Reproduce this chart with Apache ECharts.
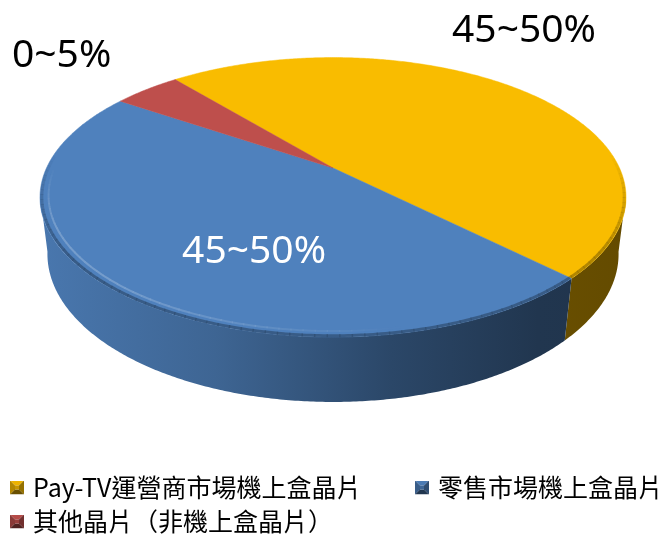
<!DOCTYPE html>
<html><head><meta charset="utf-8">
<script src="https://cdn.jsdelivr.net/npm/echarts@6/dist/echarts.min.js"></script>
<style>html,body{margin:0;padding:0;background:#fff}#c{width:663px;height:538px}</style>
</head><body><div id="c"></div>
<script>
// ---- data ----
const categories = ['Pay-TV運營商市場機上盒晶片', '零售市場機上盒晶片', '其他晶片（非機上盒晶片）'];
const shares = [48.5, 47, 4.5];
const sliceLabels = ['45~50%', '45~50%', '0~5%'];

// ---- style ----
const topColors = ['#F9BC00', '#4F81BD', '#BE4F4C'];
const labelColors = ['#000000', '#FFFFFF', '#000000'];
const START_DEG = 230.2;
// perspective projection of the pie disc
const CX = 333, CY = 168, S = 286.5, SINA = 0.4663, COSA = 0.8846, RHO = 0.237, HGT = 0.2255;
function proj(phi, r, h) {
  const X = r * Math.cos(phi), Z = r * Math.sin(phi), Y = -h;
  const d = 1 - (Y * SINA + Z * COSA) * RHO;
  return [CX + S * X / d, CY + S * (-Y * COSA + Z * SINA) / d];
}
const total = shares.reduce((a, b) => a + b, 0);
function sliceAngles(i) {
  let cum = 0;
  for (let k = 0; k < i; k++) cum += shares[k];
  const a0 = (START_DEG + cum / total * 360) * Math.PI / 180;
  const a1 = (START_DEG + (cum + shares[i]) / total * 360) * Math.PI / 180;
  return [a0, a1];
}
function hexToRgb(h) { return [parseInt(h.substr(1, 2), 16), parseInt(h.substr(3, 2), 16), parseInt(h.substr(5, 2), 16)]; }
function shadeArr(hex, k) { return hexToRgb(hex).map(v => Math.max(0, Math.min(255, Math.round(v * k)))); }
function shade(hex, k) { return 'rgb(' + shadeArr(hex, k).join(',') + ')'; }
function toHex(a) { return '#' + a.map(v => v.toString(16).padStart(2, '0')).join(''); }
function lighten(hex, t) { const c = hexToRgb(hex); return 'rgb(' + c.map(v => Math.round(v + (255 - v) * t)).join(',') + ')'; }

const FRONT_LO = Math.asin(0.19), FRONT_HI = Math.PI - Math.asin(0.19);
function renderWall(params, api) {
  const i = api.value(0);
  const [a0, a1] = sliceAngles(i);
  const children = [];
  for (let k = -1; k <= 2; k++) {
    const lo = Math.max(a0, FRONT_LO + 2 * Math.PI * k), hi = Math.min(a1, FRONT_HI + 2 * Math.PI * k);
    if (hi <= lo) continue;
    const n = Math.max(2, Math.ceil((hi - lo) / (0.5 * Math.PI / 180)));
    const top = [], bot = [];
    for (let j = 0; j <= n; j++) {
      const p = lo + (hi - lo) * j / n;
      top.push(proj(p, 1, 0));
      bot.push(proj(p, 1, HGT));
    }
    const pts = top.concat(bot.reverse());
    children.push({ type: 'polygon', shape: { points: pts }, style: {
      fill: { type: 'linear', x: 40, y: 0, x2: 626, y2: 0, global: true, colorStops: [
        { offset: 0, color: shade(topColors[i], 0.92) },
        { offset: 0.3, color: shade(topColors[i], 0.78) },
        { offset: 0.6, color: shade(topColors[i], 0.55) },
        { offset: 0.85, color: shade(topColors[i], 0.42) },
        { offset: 1, color: shade(topColors[i], 0.40) }] },
      stroke: null } });
  }
  return { type: 'group', children: children };
}

const labelAnchor = [{ r: 1, dx: 6, dy: -58 }, { r: 0.5, dx: 20, dy: 28 }, { r: 1, dx: -85, dy: -34 }];

function makeTopRender(i) {
  return function (params, api) {
    const [a0, a1] = sliceAngles(i);
    const pts = [proj(0, 0, 0)];
    const n = Math.max(4, Math.ceil((a1 - a0) / (0.5 * Math.PI / 180)));
    for (let j = 0; j <= n; j++) pts.push(proj(a0 + (a1 - a0) * j / n, 1, 0));
    const children = [{ type: 'polygon', shape: { points: pts }, style: { fill: topColors[i], stroke: topColors[i], lineWidth: 0.5 } }];
    // bevel: dark rim + light inner highlight on the near-left side
    const seg = 2 * Math.PI / 180;
    for (let p = a0; p < a1 - 1e-9; p += seg) {
      const q = Math.min(p + seg + 0.004, a1), m = (p + q) / 2;
      const sn = Math.sin(m), cs = Math.cos(m);
      if (sn > -0.1) {
        const op = Math.min(1, (sn + 0.1) * 1.5);
        const r1 = [], r2 = [];
        for (let u = 0; u <= 3; u++) { r1.push(proj(p + (q - p) * u / 3, 0.994, 0)); r2.push(proj(p + (q - p) * u / 3, 0.972, 0)); }
        children.push({ type: 'polyline', shape: { points: r1 }, style: { stroke: shade(topColors[i], 0.6), lineWidth: 3, opacity: op * 0.7, fill: null } });
        const hop = Math.max(0, Math.min(0.85, 0.2 - cs * 1.0)) * Math.min(1, Math.max(0, sn) * 2.5);
        if (hop > 0.02) children.push({ type: 'polyline', shape: { points: r2 }, style: { stroke: lighten(topColors[i], 0.25), lineWidth: 2, opacity: hop, fill: null } });
      }
    }
    const la = labelAnchor[i];
    const am = (a0 + a1) / 2;
    const pa = proj(am, la.r, 0);
    children.push({ type: 'text', x: pa[0] + la.dx, y: pa[1] + la.dy, z2: 100,
      style: { text: sliceLabels[i], fill: labelColors[i], fontSize: 39, fontFamily: 'Noto Sans', align: 'center', verticalAlign: 'middle' } });
    return { type: 'group', children: children };
  };
}

const series = [{
  type: 'custom', name: 'wall', coordinateSystem: 'none', z: 1, silent: true,
  data: shares.map((v, i) => [i, v]), renderItem: renderWall
}];
categories.forEach((name, i) => {
  series.push({
    type: 'custom', name: name, coordinateSystem: 'none', z: 2, silent: true,
    itemStyle: { color: topColors[i] },
    data: [[i, shares[i]]], renderItem: makeTopRender(i)
  });
});

// pyramid-bevel legend icons
function pyramidIcon(hex) {
  const t = toHex(shadeArr(hex, 0.95)), l = toHex(shadeArr(hex, 0.72)), r = toHex(shadeArr(hex, 0.6)), b = toHex(shadeArr(hex, 0.42)), c = toHex(shadeArr(hex, 0.8));
  const svg = '<svg xmlns="http://www.w3.org/2000/svg" width="14" height="14" viewBox="0 0 14 14">' +
    '<polygon points="0,0 14,0 9,5 5,5" fill="' + t + '"/>' +
    '<polygon points="0,0 5,5 5,9 0,14" fill="' + l + '"/>' +
    '<polygon points="14,0 14,14 9,9 9,5" fill="' + r + '"/>' +
    '<polygon points="0,14 5,9 9,9 14,14" fill="' + b + '"/>' +
    '<rect x="5" y="5" width="4" height="4" fill="' + c + '"/></svg>';
  return 'image://data:image/svg+xml;charset=utf-8,' + encodeURIComponent(svg);
}
const legendPos = [{ left: 10, top: 475 }, { left: 415, top: 475 }, { left: 10, top: 509 }];
const legend = categories.map((name, i) => ({
  data: [{ name: name, icon: pyramidIcon(topColors[i]) }],
  left: legendPos[i].left, top: legendPos[i].top, padding: 0,
  itemWidth: 14, itemHeight: 14, selectedMode: false,
  textStyle: { fontSize: 25, fontFamily: 'Noto Sans CJK TC', color: '#000', padding: [0, 0, 0, 4] }
}));

const chart = echarts.init(document.getElementById('c'));
chart.setOption({ animation: false, backgroundColor: '#fff', legend: legend, series: series });
</script>
</body></html>
